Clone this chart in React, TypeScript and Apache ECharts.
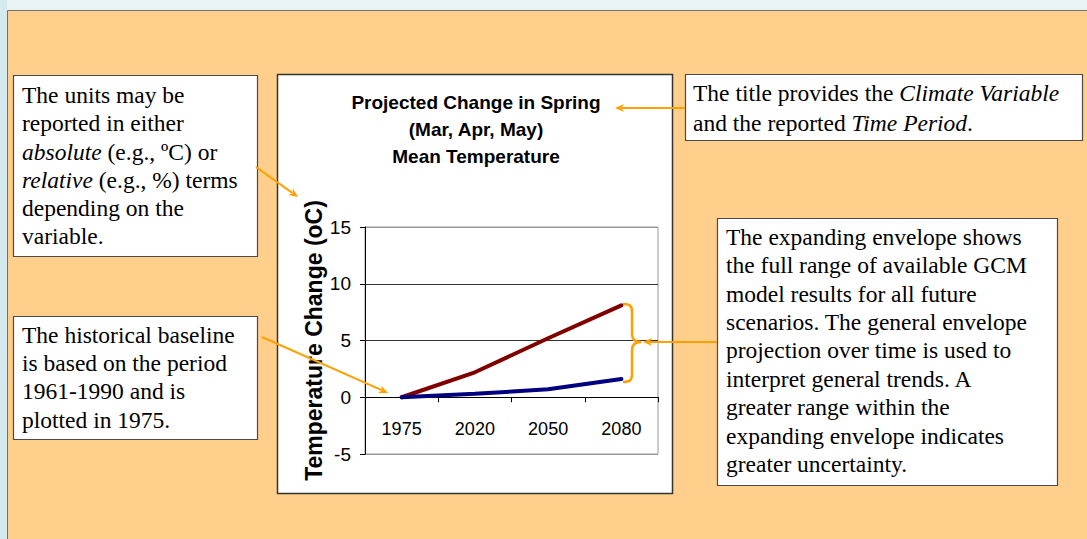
import { useEffect, useRef } from 'react';
import * as echarts from 'echarts';

// ---- data ----
const years = ['1975', '2020', '2050', '2080'];
const upperEnvelope = [0, 2.2, 5.2, 8.1];
const lowerEnvelope = [0, 0.3, 0.7, 1.6];
const yMin = -5;
const yMax = 15;
const yInterval = 5;
const splitColors = ['#999999', '#000000', '#333333', '#333333', '#999999'];

const chartTitle = ['Projected Change in Spring', '(Mar, Apr, May)', 'Mean Temperature'];
const yAxisName = 'Temperature Change (oC)';

const unitsNote = [
  '{r|The units may be}',
  '{r|reported in either}',
  '{i|absolute}{r| (e.g., ºC) or}',
  '{i|relative}{r| (e.g., %) terms}',
  '{r|depending on the}',
  '{r|variable.}',
];
const baselineNote = [
  '{r|The historical baseline}',
  '{r|is based on the period}',
  '{r|1961-1990 and is}',
  '{r|plotted in 1975.}',
];
const titleNote = [
  '{r|The title provides the }{i|Climate Variable}',
  '{r|and the reported }{i|Time Period}{r|.}',
];
const envelopeNote = [
  '{r|The expanding envelope shows}',
  '{r|the full range of available GCM}',
  '{r|model results for all future}',
  '{r|scenarios. The general envelope}',
  '{r|projection over time is used to}',
  '{r|interpret general trends. A}',
  '{r|greater range within the}',
  '{r|expanding envelope indicates}',
  '{r|greater uncertainty.}',
];

const SANS = 'Liberation Sans, Arial, sans-serif';
const SERIF = 'Liberation Serif, Times New Roman, serif';
const ORANGE = '#FFA000';

const braceD =
  'M623,304 C630,304 632,306 632,312 L632,334 C632,339 635,342 641,342 C635,342 632,345 632,350 L632,374 C632,380 630,382 623,382';
echarts.graphic.registerShape('brace', echarts.graphic.extendPath(braceD, {}));

function arrow(x1: number, y1: number, x2: number, y2: number) {
  const dx = x2 - x1;
  const dy = y2 - y1;
  const len = Math.hypot(dx, dy);
  const ux = dx / len;
  const uy = dy / len;
  const hl = 9;
  const hw = 4;
  const bx = x2 - ux * hl;
  const by = y2 - uy * hl;
  return [
    {
      type: 'line',
      z: 30,
      shape: { x1, y1, x2: bx + ux * 2, y2: by + uy * 2 },
      style: { stroke: ORANGE, lineWidth: 2 },
    },
    {
      type: 'polygon',
      z: 30,
      shape: {
        points: [
          [x2, y2],
          [bx - uy * hw, by + ux * hw],
          [bx + ux * 2.5, by + uy * 2.5],
          [bx + uy * hw, by - ux * hw],
        ],
      },
      style: { fill: ORANGE },
    },
  ];
}

const FS = 23.5;
const richStyles = (lh: number) => ({
  r: { fontFamily: SERIF, fontSize: FS, lineHeight: lh, fill: '#000' },
  i: { fontFamily: SERIF, fontSize: FS, fontStyle: 'italic', lineHeight: lh, fill: '#000' },
});

function noteBox(x: number, y: number, w: number, h: number, tx: number, ty: number, lines: string[], lh: number) {
  return [
    {
      type: 'rect',
      z: 20,
      shape: { x: x + 0.5, y: y + 0.5, width: w, height: h },
      style: { fill: '#ffffff', stroke: '#4a4a4a', lineWidth: 1.2 },
    },
    {
      type: 'text',
      z: 21,
      x: tx,
      y: ty,
      style: {
        text: lines.join('\n'),
        fontFamily: SERIF,
        fontSize: FS,
        lineHeight: lh,
        verticalAlign: 'top',
        align: 'left',
        fill: '#000',
        rich: richStyles(lh),
      },
    },
  ];
}

export default function App() {
  const ref = useRef<HTMLDivElement>(null);
  useEffect(() => {
    if (!ref.current) return;
    const chart = echarts.init(ref.current, null, { renderer: 'svg' });
    const option: any = {
      animation: false,
      backgroundColor: '#E8F3F5',
      title: {
        text: chartTitle.join('\n'),
        left: 476,
        top: 89,
        textAlign: 'center',
        padding: 0,
        textStyle: {
          fontFamily: SANS,
          fontSize: 19,
          fontWeight: 'bold',
          lineHeight: 27,
          color: '#000',
        },
      },
      grid: {
        left: 365,
        top: 227,
        right: 1087 - 658,
        bottom: 539 - 454,
        show: true,
        borderColor: '#999',
        borderWidth: 1,
        backgroundColor: 'transparent',
        z: 5,
      },
      xAxis: {
        type: 'category',
        data: years,
        boundaryGap: true,
        z: 6,
        axisLine: { show: true, onZero: true, lineStyle: { color: '#000', width: 1 } },
        axisTick: { show: true, length: 5, lineStyle: { color: '#000' } },
        axisLabel: { color: '#000', fontSize: 18, fontFamily: SANS, margin: -34, interval: 0 },
        splitLine: { show: false },
      },
      yAxis: {
        type: 'value',
        min: yMin,
        max: yMax,
        interval: yInterval,
        z: 5,
        name: yAxisName,
        nameLocation: 'middle',
        nameGap: 40,
        nameTextStyle: { fontFamily: SANS, fontSize: 23, fontWeight: 'bold', color: '#000' },
        axisLine: { show: true, lineStyle: { color: '#000', width: 1 } },
        axisTick: { show: true, length: 5, lineStyle: { color: '#000' } },
        axisLabel: { color: '#000', fontSize: 19, fontFamily: SANS, margin: 14 },
        splitLine: { show: true, lineStyle: { color: splitColors, width: 1 } },
      },
      series: [
        {
          name: 'Upper',
          type: 'line',
          data: upperEnvelope,
          symbol: 'none',
          z: 10,
          lineStyle: { color: '#800000', width: 4, cap: 'round' },
        },
        {
          name: 'Lower',
          type: 'line',
          data: lowerEnvelope,
          symbol: 'none',
          z: 11,
          lineStyle: { color: '#000080', width: 4, cap: 'round' },
        },
      ],
      graphic: [
        { type: 'rect', z: -20, shape: { x: 0, y: 0, width: 7, height: 539 }, style: { fill: '#D4EAEE' } },
        {
          type: 'rect',
          z: -19,
          shape: { x: 7.5, y: 10.5, width: 1100, height: 600 },
          style: { fill: '#FFCF8B', stroke: '#707070', lineWidth: 1 },
        },
        {
          type: 'rect',
          z: -18,
          shape: { x: 277.5, y: 74.5, width: 395, height: 419 },
          style: { fill: '#ffffff', stroke: '#333333', lineWidth: 1.5 },
        },
        ...noteBox(13, 75, 244, 181, 22, 81, unitsNote, 28.2),
        ...noteBox(13, 316, 244, 123, 22, 320.5, baselineNote, 28.3),
        ...noteBox(685, 74, 397, 66, 693, 78, titleNote, 30),
        ...noteBox(717, 218, 340, 267, 726, 222.5, envelopeNote, 28.4),
        ...arrow(685, 108, 615, 108),
        ...arrow(256, 167, 298, 197),
        ...arrow(262, 337, 388, 393),
        ...arrow(717, 342, 643, 342),
        {
          type: 'brace',
          z: 30,
          x: 0,
          y: 0,
          style: { stroke: ORANGE, fill: 'none', lineWidth: 2.5 },
        },
      ],
    };
    chart.setOption(option);
    return () => chart.dispose();
  }, []);
  return (
    <div
      ref={ref}
      style={{ position: 'fixed', left: 0, top: 0, width: 1087, height: 539 }}
    />
  );
}
